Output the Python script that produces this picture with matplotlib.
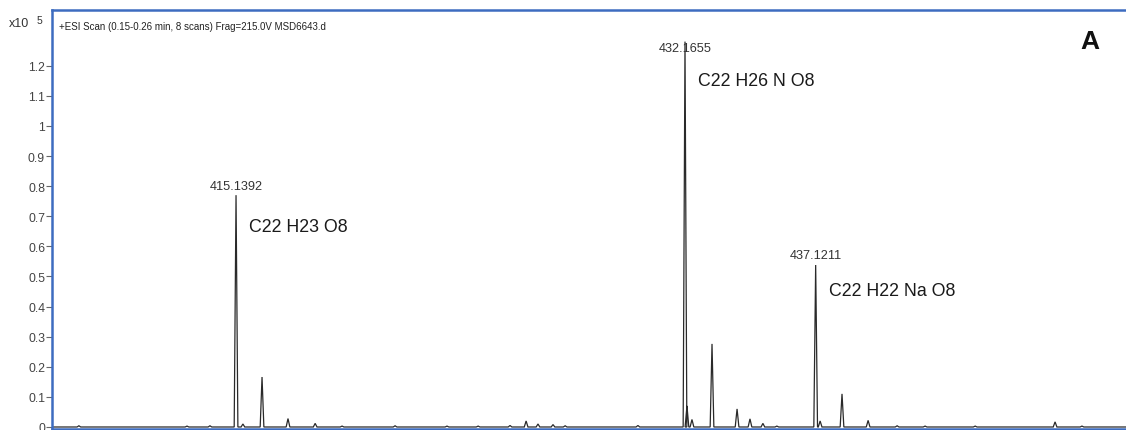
import numpy as np
import matplotlib.pyplot as plt

plt.rcParams['font.family'] = ['Liberation Sans', 'DejaVu Sans']

# centroid m/z and abundance (x10^5 counts)
mz = [409.18, 413.28, 414.15, 415.1392, 415.40, 416.125, 417.11, 418.14, 419.16, 421.17,
      423.14, 424.32, 425.53, 426.14, 426.59, 427.16, 427.62, 430.38,
      432.1655, 432.24, 432.43, 433.19, 434.14, 434.63, 435.12, 435.65,
      437.1211, 437.29, 438.12, 439.11, 440.21, 441.27, 443.17, 446.20, 447.22]
abundance = [0.004, 0.003, 0.004, 0.77, 0.01, 0.166, 0.028, 0.012, 0.003, 0.004,
             0.003, 0.003, 0.005, 0.02, 0.01, 0.008, 0.004, 0.005,
             1.28, 0.07, 0.025, 0.276, 0.06, 0.027, 0.012, 0.003,
             0.538, 0.02, 0.11, 0.022, 0.004, 0.003, 0.003, 0.017, 0.003]

labelled_mz = [415.1392, 432.1655, 437.1211]
labelled_text = ['415.1392', '432.1655', '437.1211']
formulas = ['C22 H23 O8', 'C22 H26 N O8', 'C22 H22 Na O8']

yticks = [0, 0.1, 0.2, 0.3, 0.4, 0.5, 0.6, 0.7, 0.8, 0.9, 1, 1.1, 1.2]
ytick_labels = ['0', '0.1', '0.2', '0.3', '0.4', '0.5', '0.6', '0.7', '0.8', '0.9', '1', '1.1', '1.2']

xmin, xmax = 408.16, 448.89
blue = '#3d6cc0'

fig = plt.figure(figsize=(11.26, 4.31), dpi=100)
ax = fig.add_axes([52 / 1126, 1.5 / 431, 1 - 52 / 1126, 418.5 / 431])

# profile: narrow triangle per centroid joined along the baseline
w = 0.07
px, py = [xmin], [0.0]
for m, h in sorted(zip(mz, abundance)):
    px += [m - w, m, m + w]
    py += [0.0, h, 0.0]
px.append(xmax)
py.append(0.0)
ax.plot(px, py, color='#2a2a2a', lw=0.9, solid_joinstyle='miter')

lookup = dict(zip(mz, abundance))
drops = [0.105, 0.13, 0.086]
for m, txt, formula, drop in zip(labelled_mz, labelled_text, formulas, drops):
    h = lookup[m]
    ax.text(m, min(h + 0.012, 1.24), txt, ha='center', va='bottom',
            fontsize=9.2, color='#333333')
    ax.text(m + 0.5, h - drop, formula, ha='left', va='center',
            fontsize=12.8, color='#1a1a1a')

ax.set_xlim(xmin, xmax)
ax.set_ylim(-0.005, 1.385)
ax.set_yticks(yticks)
ax.set_yticklabels(ytick_labels)
ax.set_xticks([])
ax.tick_params(axis='y', length=4.5, width=0.8, color='#666666',
               labelsize=8.8, labelcolor='#444444', pad=0.5)

for side in ('left', 'top', 'bottom'):
    ax.spines[side].set_color(blue)
    ax.spines[side].set_linewidth(1.8)
ax.spines['right'].set_visible(False)

ax.text(0.0065, 1.333, '+ESI Scan (0.15-0.26 min, 8 scans) Frag=215.0V MSD6643.d',
        transform=ax.get_yaxis_transform(), fontsize=7, color='#222222',
        va='center', ha='left')
ax.text(0.9665, 1.282, 'A', transform=ax.get_yaxis_transform(), fontsize=19,
        fontweight='bold', ha='center', va='center', color='#111111')

fig.text(9 / 1126, (431 - 24) / 431, 'x10', fontsize=9, color='#333333',
         va='center', ha='left')
fig.text(37 / 1126, (431 - 21) / 431, '5', fontsize=7.5, color='#333333',
         va='center', ha='left')

fig.savefig('out.png', dpi=100)
